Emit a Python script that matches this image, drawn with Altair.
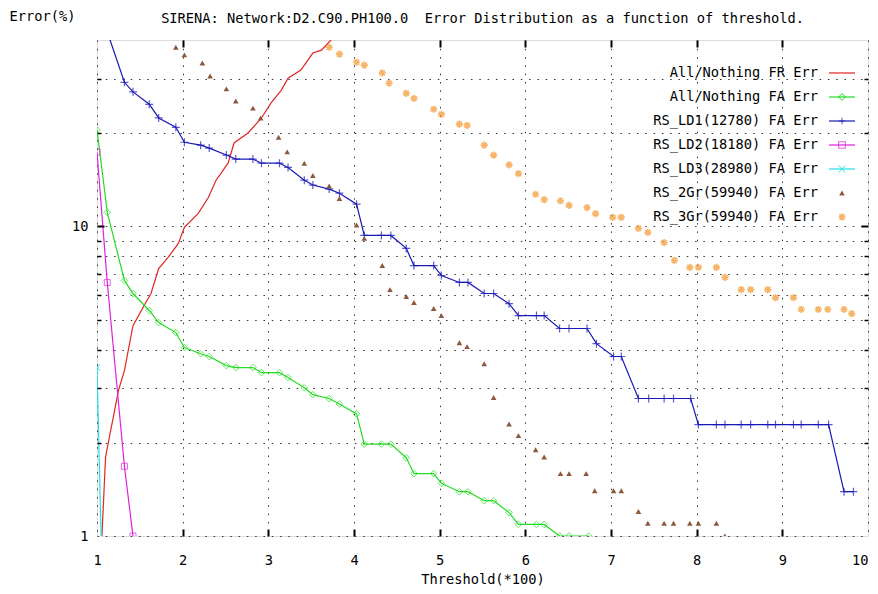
import altair as alt
import pandas as pd

FONT = "DejaVu Sans Mono"
FS = 13.7

# ---- data ----
fr_x = [1.00, 1.10, 1.25, 1.32, 1.42, 1.55, 1.63, 1.72, 1.83, 1.95, 2.02, 2.18, 2.30, 2.39,
        2.53, 2.60, 2.76, 2.92, 3.03, 3.15, 3.23, 3.38, 3.52, 3.62, 3.73, 3.80]
fr_y = [0.45, 1.80, 2.95, 3.42, 4.78, 5.55, 6.07, 7.31, 7.94, 8.81, 9.93, 11.0, 12.4, 14.1,
        16.0, 18.6, 20.0, 22.4, 25.0, 27.5, 30.1, 32.0, 36.3, 37.1, 40.0, 42.0]

fa_x = [1.00, 1.12, 1.32, 1.42, 1.61, 1.72, 1.92, 2.02, 2.21, 2.31, 2.51, 2.62, 2.82, 2.92,
        3.13, 3.23, 3.42, 3.52, 3.71, 3.83, 4.03, 4.12, 4.32, 4.43, 4.61, 4.70, 4.93, 5.02,
        5.23, 5.33, 5.52, 5.63, 5.81, 5.92, 6.13, 6.22, 6.40, 6.51, 6.74]
fa_y = [20.5, 11.1, 6.69, 6.07, 5.35, 4.89, 4.54, 4.06, 3.88, 3.80, 3.55, 3.50, 3.50, 3.37,
        3.37, 3.25, 3.01, 2.86, 2.78, 2.67, 2.48, 1.98, 1.98, 1.98, 1.79, 1.59, 1.59, 1.48,
        1.39, 1.39, 1.30, 1.30, 1.19, 1.09, 1.09, 1.09, 1.00, 1.00, 1.00]

ld1_x = [1.12, 1.32, 1.42, 1.61, 1.72, 1.92, 2.02, 2.21, 2.31, 2.51, 2.62, 2.82, 2.92, 3.13,
         3.23, 3.42, 3.52, 3.71, 3.83, 4.03, 4.12, 4.32, 4.43, 4.61, 4.70, 4.93, 5.02, 5.23,
         5.33, 5.52, 5.63, 5.81, 5.92, 6.13, 6.22, 6.40, 6.51, 6.72, 6.83, 7.03, 7.12, 7.32,
         7.44, 7.62, 7.73, 7.93, 8.02, 8.23, 8.33, 8.52, 8.63, 8.83, 8.92, 9.13, 9.22, 9.42,
         9.54, 9.72, 9.83]
ld1_y = [42.5, 29.2, 27.2, 24.8, 22.4, 20.9, 18.7, 18.3, 17.9, 17.0, 16.5, 16.5, 16.0, 16.0,
         15.5, 14.1, 13.6, 13.2, 12.8, 11.8, 9.35, 9.35, 9.35, 8.49, 7.47, 7.47, 6.94, 6.59,
         6.59, 6.07, 6.07, 5.63, 5.15, 5.15, 5.15, 4.68, 4.68, 4.68, 4.18, 3.80, 3.80, 2.78,
         2.78, 2.78, 2.78, 2.78, 2.29, 2.29, 2.29, 2.29, 2.29, 2.29, 2.29, 2.29, 2.29, 2.29,
         2.29, 1.39, 1.39]

ld2_x = [1.00, 1.12, 1.32, 1.42]
ld2_y = [17.4, 6.59, 1.68, 1.00]

ld3_x = [1.00, 1.12]
ld3_y = [3.50, 0.15]

gr2_x = [1.92, 2.02, 2.23, 2.32, 2.51, 2.62, 2.82, 2.91, 3.12, 3.22, 3.42, 3.52, 3.71, 3.83,
         4.03, 4.12, 4.33, 4.42, 4.61, 4.70, 4.93, 5.02, 5.23, 5.32, 5.52, 5.63, 5.81, 5.92,
         6.12, 6.22, 6.41, 6.51, 6.71, 6.81, 7.03, 7.12, 7.32, 7.43, 7.62, 7.73, 7.92, 8.02,
         8.23, 8.33]
gr2_y = [37.9, 35.8, 33.7, 30.6, 27.8, 25.4, 24.1, 22.4, 19.4, 17.4, 16.0, 14.6, 13.5, 12.3,
         10.1, 9.15, 7.48, 6.25, 5.94, 5.68, 5.43, 5.15, 4.21, 4.09, 3.60, 2.80, 2.30, 2.11,
         1.90, 1.80, 1.59, 1.59, 1.59, 1.40, 1.40, 1.40, 1.20, 1.10, 1.10, 1.10, 1.10, 1.10,
         1.10, 1.00]

gr3_x = [3.71, 3.83, 4.03, 4.12, 4.33, 4.41, 4.61, 4.70, 4.93, 5.02, 5.23, 5.32, 5.52, 5.63,
         5.81, 5.92, 6.12, 6.22, 6.41, 6.51, 6.72, 6.82, 7.02, 7.12, 7.32, 7.43, 7.62, 7.74,
         7.92, 8.02, 8.23, 8.33, 8.52, 8.63, 8.83, 8.92, 9.13, 9.22, 9.42, 9.53, 9.72, 9.81]
gr3_y = [37.9, 36.0, 33.9, 33.2, 31.3, 29.0, 26.9, 25.9, 23.9, 23.0, 21.4, 21.2, 18.3, 17.0,
         15.8, 14.8, 12.7, 12.2, 12.1, 11.7, 11.5, 11.0, 10.7, 10.7, 9.85, 9.57, 8.87, 7.76,
         7.37, 7.37, 7.37, 6.84, 6.25, 6.25, 6.25, 5.89, 5.89, 5.39, 5.39, 5.39, 5.39, 5.23]

labels = ["All/Nothing FR Err", "All/Nothing FA Err", "RS_LD1(12780) FA Err",
          "RS_LD2(18180) FA Err", "RS_LD3(28980) FA Err", "RS_2Gr(59940) FA Err",
          "RS_3Gr(59940) FA Err"]
colors = ["#e02424", "#22dd22", "#1818b8", "#e020e0", "#22e0e6", "#8b5a3c", "#f5962b"]

x_tick_labels = [1, 2, 3, 4, 5, 6, 7, 8, 9, 10]
y_grid_values = [1, 2, 3, 4, 5, 6, 7, 8, 9, 10, 20, 30]

DIAMOND = "M0,-1L1,0L0,1L-1,0Z"
PLUS = "M-1,0L1,0M0,-1L0,1"
SQUARE = "M-1,-1L1,-1L1,1L-1,1Z"
XSHAPE = "M-1,-1L1,1M-1,1L1,-1"
STAR = "M-1,0L1,0M0,-1L0,1M-0.7,-0.7L0.7,0.7M-0.7,0.7L0.7,-0.7"
TRI = "triangle-up"

def frame(xs, ys):
    return pd.DataFrame({"x": xs, "y": ys})

xscale = alt.Scale(domain=[1, 10], nice=False, zero=False)
yscale = alt.Scale(type="log", domain=[1, 40], nice=False)

tick_common = dict(labels=False, domain=False, grid=False, title=None, tickColor="black", zindex=1)

ax_x_lab = alt.Axis(orient="bottom", values=x_tick_labels, format="d", ticks=False, tickSize=0,
                    domain=False, grid=True, gridDash=[1.5, 6.8], gridColor="#333333",
                    gridWidth=1, labelPadding=17, labelFlush=False,
                    labelAlign={"condition": {"test": "datum.value == 10", "value": "right"},
                                "value": "center"},
                    labelFont=FONT, labelFontSize=FS, labelColor="black",
                    title="Threshold(*100)", titleFont=FONT, titleFontSize=FS,
                    titleFontWeight="normal", titleColor="black", titleY=43,
                    titleBaseline="middle")
ax_x_tb = alt.Axis(orient="bottom", values=x_tick_labels[1:-1], offset=-7, tickSize=7,
                   tickWidth=2, **tick_common)
ax_x_tt = alt.Axis(orient="top", values=x_tick_labels[1:-1], offset=-7, tickSize=7,
                   tickWidth=2, **tick_common)
ax_y_lab = alt.Axis(orient="left", values=y_grid_values, format="d",
                    labelExpr="datum.value == 1 || datum.value == 10 ? datum.label : ''",
                    ticks=False, tickSize=0, domain=False, grid=True, gridDash=[1.5, 6.8],
                    gridColor="#333333", gridWidth=1, labelPadding=9, labelFont=FONT,
                    labelFontSize=FS, labelColor="black", title="Error(%)", titleFont=FONT,
                    titleFontSize=FS, titleFontWeight="normal", titleColor="black",
                    titleAngle=0, titleX=-88, titleY=-24, titleAlign="left",
                    titleBaseline="middle")
ax_y_lmaj = alt.Axis(orient="left", values=[10], offset=-7, tickSize=7, tickWidth=2, **tick_common)
ax_y_lmin = alt.Axis(orient="left", values=[2, 3, 4, 5, 6, 7, 8, 9, 20, 30], offset=-4,
                     tickSize=4, tickWidth=1.5, **tick_common)
ax_y_rmaj = alt.Axis(orient="right", values=[10], offset=-7, tickSize=7, tickWidth=2, **tick_common)
ax_y_rmin = alt.Axis(orient="right", values=[2, 3, 4, 5, 6, 7, 8, 9, 20, 30], offset=-4,
                     tickSize=4, tickWidth=1.5, **tick_common)

def enc(xa=None, ya=None):
    return dict(x=alt.X("x:Q", scale=xscale, axis=xa), y=alt.Y("y:Q", scale=yscale, axis=ya))

red = alt.Chart(frame(fr_x, fr_y)).mark_line(color=colors[0], strokeWidth=1.2, clip=True).encode(
    **enc(ax_x_lab, ax_y_lab))
g_line = alt.Chart(frame(fa_x, fa_y)).mark_line(color=colors[1], strokeWidth=1.2, clip=True).encode(
    **enc(ax_x_tb, ax_y_lmaj))
g_pts = alt.Chart(frame(fa_x, fa_y)).mark_point(shape=DIAMOND, size=44, filled=False, color=colors[1],
                                                strokeWidth=1, clip=True).encode(**enc(ax_x_tt, ax_y_lmin))
b_line = alt.Chart(frame(ld1_x, ld1_y)).mark_line(color=colors[2], strokeWidth=1.2, clip=True).encode(
    **enc(None, ax_y_rmaj))
b_pts = alt.Chart(frame(ld1_x, ld1_y)).mark_point(shape=PLUS, size=64, filled=False, color=colors[2],
                                                  strokeWidth=1.2, clip=True).encode(**enc(None, ax_y_rmin))
m_line = alt.Chart(frame(ld2_x, ld2_y)).mark_line(color=colors[3], strokeWidth=1.2, clip=True).encode(**enc())
m_pts = alt.Chart(frame(ld2_x, ld2_y)).mark_point(shape=SQUARE, size=36, filled=False, color=colors[3],
                                                  strokeWidth=1, clip=True).encode(**enc())
c_line = alt.Chart(frame(ld3_x, ld3_y)).mark_line(color=colors[4], strokeWidth=1.2, clip=True).encode(**enc())
c_pts = alt.Chart(frame(ld3_x, ld3_y)).mark_point(shape=XSHAPE, size=36, filled=False, color=colors[4],
                                                  strokeWidth=1.2, clip=True).encode(**enc())
t_pts = alt.Chart(frame(gr2_x, gr2_y)).mark_point(shape=TRI, size=32, filled=True, color=colors[5],
                                                  opacity=1, clip=True).encode(**enc())
s_pts = alt.Chart(frame(gr3_x, gr3_y)).mark_point(shape=STAR, size=52, filled=False, color=colors[6],
                                                  strokeWidth=1.7, clip=True).encode(**enc())

inner = alt.layer(red, g_line, g_pts, b_line, b_pts, m_line, m_pts, c_line, c_pts, t_pts, s_pts
                  ).resolve_axis(x="independent", y="independent")

# ---- gnuplot style key (text left of sample) ----
leg = pd.DataFrame({
    "label": labels,
    "color": colors,
    "line": [1, 1, 1, 1, 1, 0, 0],
    "shape": ["", DIAMOND, PLUS, SQUARE, XSHAPE, TRI, STAR],
})
leg_y = alt.Y("label:N", scale=alt.Scale(type="point", domain=labels, range=[33, 177], padding=0),
              axis=None)
leg_text = alt.Chart(leg).mark_text(align="right", baseline="middle", font=FONT, fontSize=FS,
                                    color="black").encode(x=alt.value(721), y=leg_y, text="label:N")
leg_rule = alt.Chart(leg[leg.line == 1]).mark_rule(strokeWidth=1.2).encode(
    x=alt.value(732), x2=alt.value(758), y=leg_y, color=alt.Color("color:N", scale=None))
leg_hollow = alt.Chart(leg[leg["shape"].isin([DIAMOND, PLUS, SQUARE, XSHAPE])]).mark_point(
    filled=False, size=44, strokeWidth=1.1).encode(
    x=alt.value(745), y=leg_y, color=alt.Color("color:N", scale=None),
    shape=alt.Shape("shape:N", scale=None))
leg_tri = alt.Chart(leg[leg["shape"] == TRI]).mark_point(filled=True, size=32, opacity=1).encode(
    x=alt.value(745), y=leg_y, color=alt.Color("color:N", scale=None),
    shape=alt.Shape("shape:N", scale=None))
leg_star = alt.Chart(leg[leg["shape"] == STAR]).mark_point(filled=False, size=52, strokeWidth=1.7).encode(
    x=alt.value(745), y=leg_y, color=alt.Color("color:N", scale=None),
    shape=alt.Shape("shape:N", scale=None))
legend = alt.layer(leg_rule, leg_hollow, leg_tri, leg_star, leg_text)

chart = alt.layer(inner, legend).resolve_scale(x="independent", y="independent").properties(
    width=771, height=496,
    title=alt.TitleParams(text="SIRENA: Network:D2.C90.PH100.0 \u00a0Error Distribution as a function of threshold.",
                          font=FONT, fontSize=FS, fontWeight="normal", color="black",
                          anchor="middle", baseline="middle", offset=-24),
    autosize=alt.AutoSizeParams(type="none"),
    padding={"left": 89, "top": 32, "right": 2, "bottom": 50},
).configure_view(stroke="black", strokeWidth=2).configure(background="white")

chart.save("out.html", embed_options={"renderer": "svg", "actions": False})
